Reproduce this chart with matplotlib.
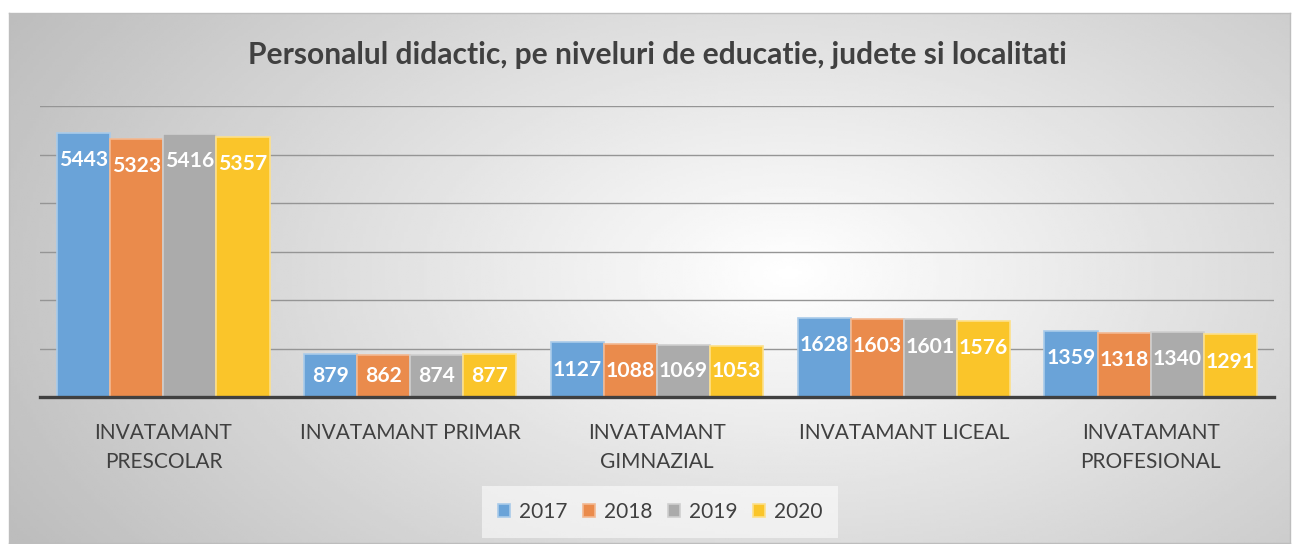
import numpy as np
import matplotlib.pyplot as plt

# Data
categories = ['INVATAMANT\nPRESCOLAR', 'INVATAMANT PRIMAR', 'INVATAMANT\nGIMNAZIAL',
              'INVATAMANT LICEAL', 'INVATAMANT\nPROFESIONAL']
years = ['2017', '2018', '2019', '2020']
v2017 = [5443, 879, 1127, 1628, 1359]
v2018 = [5323, 862, 1088, 1603, 1318]
v2019 = [5416, 874, 1069, 1601, 1340]
v2020 = [5357, 877, 1053, 1576, 1291]
series = [v2017, v2018, v2019, v2020]
colors = ['#6aa3d8', '#ea8b4c', '#ababab', '#fac52a']
edges = ['#a9cbea', '#f3b891', '#cfcfcf', '#fde08a']

plt.rcParams['font.family'] = ['Lato', 'DejaVu Sans']

W, H = 1293, 544
fig = plt.figure(figsize=(W / 100, H / 100), dpi=100, facecolor='white')

# radial gradient background of the chart area
bg = fig.add_axes([9 / W, 1 / H, 1281 / W, 530 / H], zorder=0)
gx, gy = np.meshgrid(np.linspace(0, 1281, 400), np.linspace(0, 530, 200))
r = np.sqrt(((gx - 780) / 900) ** 2 + ((gy - 260) / 520) ** 2)
shade = np.clip(1.0 - 0.26 * r, 0.74, 1.0)
bg.imshow(shade, cmap='gray', vmin=0, vmax=1, aspect='auto', extent=[0, 1, 0, 1])
bg.set_xticks([])
bg.set_yticks([])
for s in bg.spines.values():
    s.set_color('#bdbdbd')
    s.set_linewidth(1)

ax = fig.add_axes([40 / W, 1 - 397 / H, 1234 / W, 291 / H], zorder=1)
ax.patch.set_alpha(0)

x = np.arange(len(categories))
bw = 0.215
for i, vals in enumerate(series):
    pos = x + (i - 1.5) * bw
    bars = ax.bar(pos, vals, width=bw, color=colors[i], edgecolor=edges[i],
                  linewidth=1.2, label=years[i], zorder=3)
    for b, v in zip(bars, vals):
        # inside end, but kept inside short bars
        ly = max(v - 560, v / 2)
        ax.text(b.get_x() + b.get_width() / 2, ly, str(v), ha='center', va='center',
                color='white', fontsize=15.2, fontweight='bold', zorder=4)

ax.set_xlim(-0.5, len(categories) - 0.5)
ax.set_ylim(0, 6000)
ax.set_yticks(np.arange(0, 6001, 1000))
ax.set_yticklabels([])
ax.tick_params(axis='y', length=0)
ax.grid(axis='y', color='#959595', linewidth=1, zorder=0)
ax.set_xticks(x)
ax.set_xticklabels(categories, fontsize=15, color='#404040', linespacing=1.55)
ax.tick_params(axis='x', length=0, pad=19)
for side in ['left', 'right', 'top']:
    ax.spines[side].set_visible(False)
ax.spines['bottom'].set_color('#404040')
ax.spines['bottom'].set_linewidth(2.4)
ax.spines['bottom'].set_zorder(5)

fig.text(657 / W, 1 - 55 / H, 'Personalul didactic, pe niveluri de educatie, judete si localitati',
         ha='center', va='center', fontsize=21.6, fontweight='bold', color='#404040')

leg = fig.legend(loc='center', bbox_to_anchor=(660 / W, 1 - 512 / H), ncol=4,
                 frameon=True, fontsize=15, handlelength=0.6, handleheight=0.6,
                 handletextpad=0.4, columnspacing=0.75, borderpad=0.45)
leg.get_frame().set_facecolor('white')
leg.get_frame().set_alpha(0.55)
leg.get_frame().set_edgecolor('none')
leg.get_frame().set_boxstyle('square')
for t in leg.get_texts():
    t.set_color('#404040')

fig.savefig('out.png', dpi=100, facecolor='white')
